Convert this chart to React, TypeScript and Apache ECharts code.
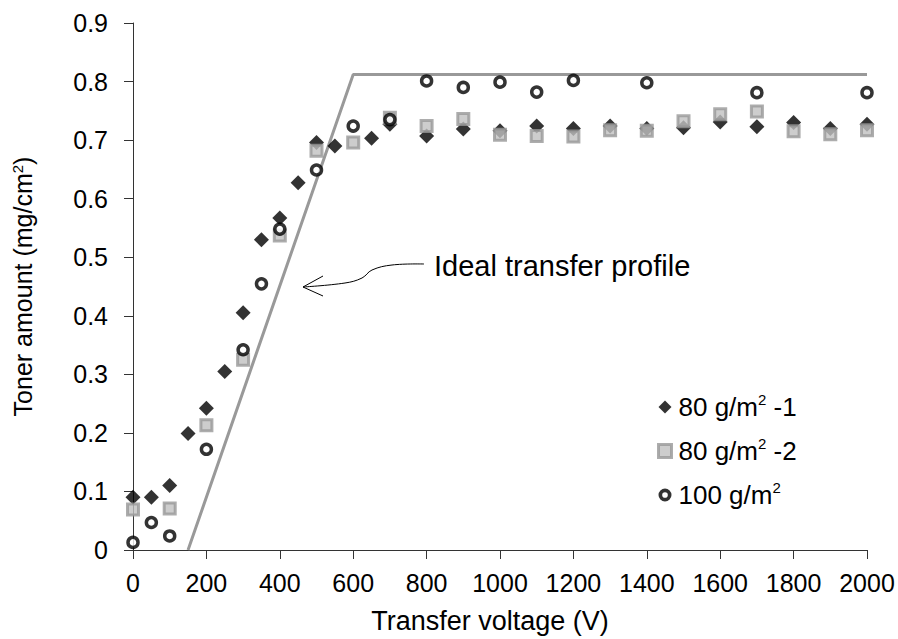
import React, { useEffect, useRef } from "react";
import * as echarts from "echarts";

const FONT = "'Liberation Sans', Arial, sans-serif";

// Series 1: 80 g/m2 -1 (diamonds)
const s1X = [0, 50, 100, 150, 200, 250, 300, 350, 400, 450, 500, 550, 650, 700, 800, 900, 1000, 1100, 1200, 1300, 1400, 1500, 1600, 1700, 1800, 1900, 2000];
const s1Y = [0.09, 0.09, 0.11, 0.199, 0.242, 0.305, 0.405, 0.53, 0.567, 0.627, 0.696, 0.69, 0.703, 0.727, 0.707, 0.719, 0.716, 0.724, 0.72, 0.724, 0.72, 0.721, 0.731, 0.723, 0.73, 0.72, 0.727];

// Series 2: 80 g/m2 -2 (squares)
const s2X = [0, 100, 200, 300, 400, 500, 600, 700, 800, 900, 1000, 1100, 1200, 1300, 1400, 1500, 1600, 1700, 1800, 1900, 2000];
const s2Y = [0.069, 0.071, 0.213, 0.325, 0.537, 0.682, 0.696, 0.738, 0.724, 0.736, 0.709, 0.707, 0.706, 0.717, 0.716, 0.732, 0.744, 0.749, 0.715, 0.71, 0.717];

// Series 3: 100 g/m2 (open circles)
const s3X = [0, 50, 100, 200, 300, 350, 400, 500, 600, 700, 800, 900, 1000, 1100, 1200, 1400, 1700, 2000];
const s3Y = [0.013, 0.047, 0.024, 0.172, 0.342, 0.4545, 0.548, 0.649, 0.724, 0.735, 0.801, 0.79, 0.799, 0.782, 0.802, 0.798, 0.781, 0.781];

// Ideal transfer profile
const idealX = [150, 600, 2000];
const idealY = [0, 0.812, 0.812];

const seriesNames = ["80 g/m2 -1", "80 g/m2 -2", "100 g/m2"];
const xTitle = "Transfer voltage (V)";
const annotation = "Ideal transfer profile";

const zip = (xs: number[], ys: number[]) => xs.map((x, i) => [x, ys[i]]);

const RING_ICON =
  "path://M0,-6A6,6,0,1,1,0,6A6,6,0,1,1,0,-6Z M0,-2.6A2.6,2.6,0,1,0,0,2.6A2.6,2.6,0,1,0,0,-2.6Z";

export default function App() {
  const ref = useRef<HTMLDivElement>(null);
  useEffect(() => {
    if (!ref.current) return;
    const chart = echarts.init(ref.current, null, { renderer: "svg" });
    const sup = { fontSize: 15, fontFamily: FONT, color: "#000", verticalAlign: "top" as const, lineHeight: 15 };
    chart.setOption({
      animation: false,
      backgroundColor: "#fff",
      grid: { left: 133, right: 31, top: 23, bottom: 89, containLabel: false },
      xAxis: {
        type: "value",
        min: 0,
        max: 2000,
        interval: 200,
        name: xTitle,
        nameLocation: "middle",
        nameGap: 57,
        nameTextStyle: { fontFamily: FONT, fontSize: 27, color: "#000", padding: [0, 20, 0, 0] },
        axisLine: { show: true, lineStyle: { color: "#333", width: 1 } },
        axisTick: { show: true, length: 9, lineStyle: { color: "#333" } },
        axisLabel: { fontFamily: FONT, fontSize: 25, color: "#000", margin: 20, formatter: (v: number) => String(v) },
        splitLine: { show: false },
      },
      yAxis: {
        type: "value",
        min: 0,
        max: 0.9,
        interval: 0.1,
        name: "Toner amount (mg/cm{sup|2})",
        nameLocation: "middle",
        nameGap: 98,
        nameTextStyle: { fontFamily: FONT, fontSize: 25, color: "#000", rich: { sup } },
        axisLine: { show: true, lineStyle: { color: "#333", width: 1 } },
        axisTick: { show: true, length: 9, lineStyle: { color: "#333" } },
        axisLabel: { fontFamily: FONT, fontSize: 25, color: "#000", margin: 25 },
        splitLine: { show: false },
      },
      legend: {
        data: [
          { name: seriesNames[0] },
          { name: seriesNames[1], itemStyle: { borderWidth: 3 } },
          { name: seriesNames[2], icon: RING_ICON, itemStyle: { color: "#000", borderWidth: 0 } },
        ],
        orient: "vertical",
        left: 652,
        top: 387,
        itemWidth: 13,
        itemHeight: 13,
        itemGap: 14,
        formatter: (name: string) => name.replace("m2", "m{sup|2}"),
        textStyle: { fontFamily: FONT, fontSize: 26, color: "#000", lineHeight: 30, padding: [0, 0, 0, 2], rich: { sup } },
      },
      series: [
        {
          type: "line",
          name: "Ideal",
          data: zip(idealX, idealY),
          symbol: "none",
          lineStyle: { color: "#999", width: 3 },
          silent: true,
          z: 1,
        },
        {
          type: "scatter",
          name: seriesNames[0],
          data: zip(s1X, s1Y),
          symbol: "diamond",
          symbolSize: 15,
          itemStyle: { color: "#000" },
          z: 2,
        },
        {
          type: "scatter",
          name: seriesNames[1],
          data: zip(s2X, s2Y),
          symbol: "rect",
          symbolSize: 11,
          itemStyle: { color: "#c0c0c0", borderColor: "#999", borderWidth: 3 },
          z: 3,
        },
        {
          type: "scatter",
          name: seriesNames[2],
          data: zip(s3X, s3Y),
          symbol: "circle",
          symbolSize: 10,
          itemStyle: { color: "#fff", borderColor: "#000", borderWidth: 3.5 },
          z: 4,
        },
      ],
      graphic: [
        {
          type: "text",
          left: 434,
          top: 251,
          style: { text: annotation, font: `29px ${FONT}`, fill: "#000" },
        },
        {
          type: "polyline",
          shape: {
            points: [
              [424, 264],
              [392, 265],
              [372, 270],
              [362, 278],
              [345, 283],
              [303, 287],
            ],
            smooth: 0.4,
          },
          style: { stroke: "#000", lineWidth: 1, fill: null },
        },
        {
          type: "polyline",
          shape: { points: [[323, 276], [303, 287], [323, 296]] },
          style: { stroke: "#000", lineWidth: 1, fill: null },
        },
      ],
    });
    return () => chart.dispose();
  }, []);
  return <div ref={ref} style={{ position: "fixed", left: 0, top: 0, width: 898, height: 639 }} />;
}
